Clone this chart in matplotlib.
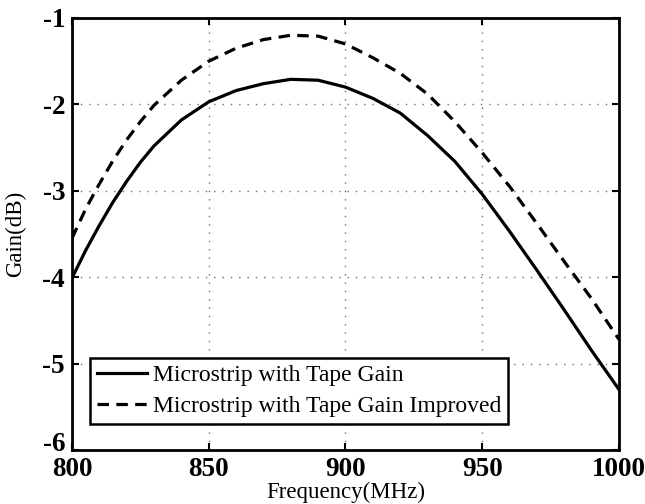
import matplotlib
matplotlib.use('Agg')
import matplotlib.pyplot as plt
import matplotlib.transforms as mtransforms

# frequency samples (MHz) and gain values (dB)
freq = [800, 805, 810, 815, 820, 825, 830, 840, 850, 860, 870, 880, 890, 900,
        910, 920, 930, 940, 950, 960, 970, 980, 990, 1000]
gain_tape = [-4.01, -3.69, -3.40, -3.13, -2.89, -2.67, -2.48, -2.18, -1.97, -1.84, -1.76,
             -1.71, -1.72, -1.80, -1.93, -2.10, -2.36, -2.66, -3.04, -3.47, -3.92,
             -4.38, -4.85, -5.30]
gain_improved = [-3.55, -3.21, -2.92, -2.65, -2.41, -2.20, -2.01, -1.72, -1.50, -1.35, -1.25,
                 -1.20, -1.21, -1.30, -1.46, -1.64, -1.88, -2.20, -2.56, -2.95, -3.38,
                 -3.82, -4.25, -4.72]

labels = ['Microstrip with Tape Gain', 'Microstrip with Tape Gain Improved']
xticks = [800, 850, 900, 950, 1000]
yticks = [-6, -5, -4, -3, -2, -1]

plt.rcParams['font.family'] = ['Liberation Serif', 'DejaVu Serif']
plt.rcParams['axes.unicode_minus'] = False

fig = plt.figure(figsize=(6.45, 5.04), dpi=100)
ax = fig.add_axes([0.1116, 0.1071, 0.8481, 0.8572])

ax.plot(freq, gain_tape, color='black', lw=2.3, label=labels[0])
ax.plot(freq, gain_improved, color='black', lw=2.3, dashes=(3.6, 2.3), label=labels[1])

ax.set_xlim(800, 1000)
ax.set_ylim(-6, -1)
ax.set_xticks(xticks)
ax.set_yticks(yticks)
ax.tick_params(direction='in', length=5, width=1.5, top=True, right=True,
               labelsize=19.5, pad=5)
for lab in ax.get_xticklabels() + ax.get_yticklabels():
    lab.set_fontweight('bold')
# MATLAB nudges the lowest y label up so it clears the "800" label
ylabs = ax.get_yticklabels()
ylabs[0].set_transform(ylabs[0].get_transform() +
                       mtransforms.ScaledTranslation(0, 9 / 100, fig.dpi_scale_trans))
for sp in ax.spines.values():
    sp.set_linewidth(2)

ax.grid(True, linestyle=(0, (1, 5)), color='#707070', linewidth=1.0)

ax.set_xlabel('Frequency(MHz)', fontsize=16.5, va='top')
ax.xaxis.set_label_coords(0.5, -0.074)
ax.set_ylabel('Gain(dB)', fontsize=16.5, va='center')
ax.yaxis.set_label_coords(-0.104, 0.5)

leg = ax.legend(loc='lower left', bbox_to_anchor=(0.033, 0.06), borderaxespad=0,
                fontsize=17, fancybox=False, handlelength=2.1, handletextpad=0.25,
                labelspacing=0.39, borderpad=0.3, framealpha=1)
leg.get_frame().set_edgecolor('black')
leg.get_frame().set_linewidth(1.8)

fig.savefig('out.png', dpi=100)
